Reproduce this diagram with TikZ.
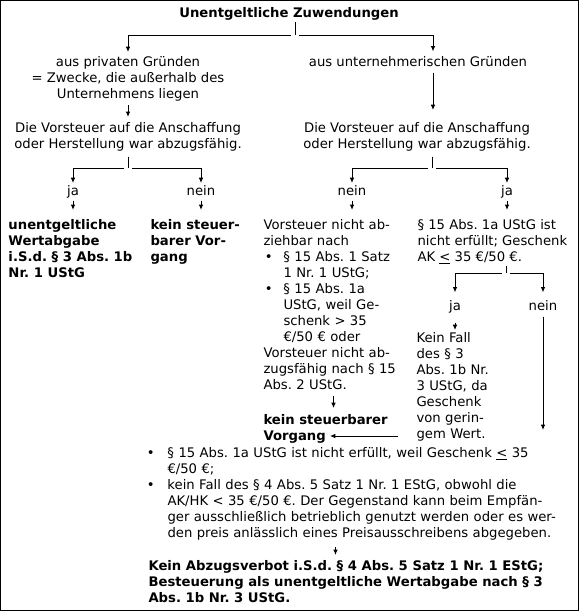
\documentclass[tikz,border=0pt]{standalone}
\usepackage{fontspec}
\setmainfont{DejaVu Sans}
\usetikzlibrary{arrows.meta}

\def\bsep{1pt}
\newcommand{\bul}[1]{\makebox[#1][l]{\hspace{\bsep}\textbullet}}
\newcommand{\ind}[1]{\hspace*{#1}}

\begin{document}
\frenchspacing
\begin{tikzpicture}[x=0.75pt,y=-0.75pt,line width=0.75pt,>={Latex[length=4pt,width=3.5pt]},font=\fontsize{9.9}{12}\selectfont]
    \tikzstyle{every node}=[inner sep=0pt]
    \tikzstyle{lbl}=[anchor=base,text height=0.76em,text depth=0.21em]
    \tikzstyle{blk}=[anchor=north west,align=left]
    \tikzstyle{mid}=[anchor=north,align=center]
    \tikzstyle{hd}=[font=\fontsize{9.9}{12}\selectfont\bfseries]
    \tikzstyle{arr}=[->,shorten <=3pt,shorten >=3pt]

    \useasboundingbox (0,0) rectangle (579,611);
    \draw (0.5,0.5) rectangle (578.5,610.5);

    % top of the tree
    \node[hd,anchor=base] (title) at (289,17.6) {Unentgeltliche Zuwendungen};
    \node[mid] (priv) at (128,55.6) {aus privaten Gründen\\= Zwecke, die außerhalb des\\Unternehmens liegen};
    \node[anchor=base] (unt) at (418,66.6) {aus unternehmerischen Gründen};
    \node[mid] (vl) at (128,121.6) {Die Vorsteuer auf die Anschaffung\\oder Herstellung war abzugsfähig.};
    \node[mid] (vr) at (417,121.6) {Die Vorsteuer auf die Anschaffung\\oder Herstellung war abzugsfähig.};

    \node[lbl] (ja1) at (73,195.6) {ja};
    \node[lbl] (nein1) at (201,195.6) {nein};
    \node[lbl] (nein2) at (352,195.6) {nein};
    \node[lbl] (ja2) at (507,195.6) {ja};

    % second level
    \node[blk,hd] (wb) at (8,218.6) {unentgeltliche\\Wertabgabe\\i.S.d. § 3 Abs. 1b\\Nr. 1 UStG};
    \node[blk,hd] (ksv1) at (150,218.6) {kein steuer-\\barer Vor-\\gang};
    \node[blk,text width=105pt] (vn) at (263,218.6) {Vorsteuer nicht ab-\\ziehbar nach\\
        \bul{15pt}§ 15 Abs. 1 Satz\\\ind{15pt}1 Nr. 1 UStG;\\
        \bul{15pt}§ 15 Abs. 1a\\\ind{15pt}UStG, weil Ge-\\\ind{15pt}schenk > 35\\\ind{15pt}€/50 € oder\\
        Vorsteuer nicht ab-\\zugsfähig nach § 15\\Abs. 2 UStG.};
    \node[blk] (pa) at (417,218.6) {§ 15 Abs. 1a UStG ist\\nicht erfüllt; Geschenk\\AK \underline{<} 35 €/50 €.};

    \node[lbl] (ja3) at (455,310.6) {ja};
    \node[lbl] (nein3) at (543,310.6) {nein};
    \node[blk,text width=61.5pt] (kf) at (416,331.6) {Kein Fall\\des § 3\\Abs. 1b Nr.\\3 UStG, da\\Geschenk\\von gerin-\\gem Wert.};
    \node[blk,hd] (ksv2) at (263,413.6) {kein steuerbarer\\Vorgang};

    % bottom
    \node[blk,text width=315pt] (bl) at (145,446.6) {%
        \bul{16.5pt}§ 15 Abs. 1a UStG ist nicht erfüllt, weil Geschenk \underline{<} 35\\
        \ind{16.5pt}€/50 €;\\
        \bul{16.5pt}kein Fall des § 4 Abs. 5 Satz 1 Nr. 1 EStG, obwohl die\\
        \ind{16.5pt}AK/HK < 35 €/50 €. Der Gegenstand kann beim Empfän-\\
        \ind{16.5pt}ger ausschließlich betrieblich genutzt werden oder es wer-\\
        \ind{16.5pt}den preis anlässlich eines Preisausschreibens abgegeben.};
    \node[blk,hd] (fin) at (148,559.6) {Kein Abzugsverbot i.S.d. § 4 Abs. 5 Satz 1 Nr. 1 EStG;\\Besteuerung als unentgeltliche Wertabgabe nach § 3\\Abs. 1b Nr. 3 UStG.};

    \coordinate (split) at (295,35);
    \coordinate (sl) at (128,168);
    \coordinate (sr) at (432,168);
    \coordinate (sk) at (506,273);
    \coordinate (vg) at (330,436);

    \draw[shorten <=1pt] (title.south -| split) -- (split);
    \draw[arr,shorten >=2.7pt] (split) -| (priv.north);
    \draw[arr,shorten >=3.5pt] (split) -| ([xshift=11.25pt]unt.north);
    \draw[arr,shorten <=2.8pt,shorten >=3.5pt] (priv.south) -- (vl.north);
    \draw[arr,shorten <=4pt,shorten >=8.7pt] ([xshift=11.25pt]unt.south) -- ([xshift=12pt]vr.north);

    \draw[shorten <=4pt] (vl.south) -- (sl);
    \draw[shorten <=4pt] (vr.south -| sr) -- (sr);
    \foreach \t in {ja1,nein1}
        \draw[arr,shorten >=1.5pt] (sl) -| (\t.north);
    \foreach \t in {nein2,ja2}
        \draw[arr,shorten >=1.5pt] (sr) -| (\t.north);
    \foreach \t/\b in {ja1/wb,nein1/ksv1,nein2/vn,ja2/pa}
        \draw[arr,shorten <=1.2pt,shorten >=6.5pt] (\t.south) -- (\t |- \b.north);

    \draw[shorten <=1.5pt] (pa.south -| sk) -- (sk);
    \foreach \t in {ja3,nein3}
        \draw[arr,shorten >=5.7pt] (sk) -| (\t.north);
    \draw[arr,shorten <=6.5pt,shorten >=1.2pt] (ja3.south) -- (ja3 |- kf.north);
    \draw[arr,shorten <=2pt,shorten >=12.5pt] (nein3.south) -- (nein3 |- bl.north);
    \draw[arr,shorten <=4.8pt,shorten >=4.2pt] (vn.south) -- (vn.south |- ksv2.north);
    \draw[arr,shorten <=13.5pt,shorten >=0pt] (kf.west |- vg) -- (vg);
    \draw[arr,shorten <=5pt,shorten >=3.5pt] ([xshift=-15pt]bl.south) -- ([xshift=-15pt]bl.south |- fin.north);
\end{tikzpicture}
\end{document}
